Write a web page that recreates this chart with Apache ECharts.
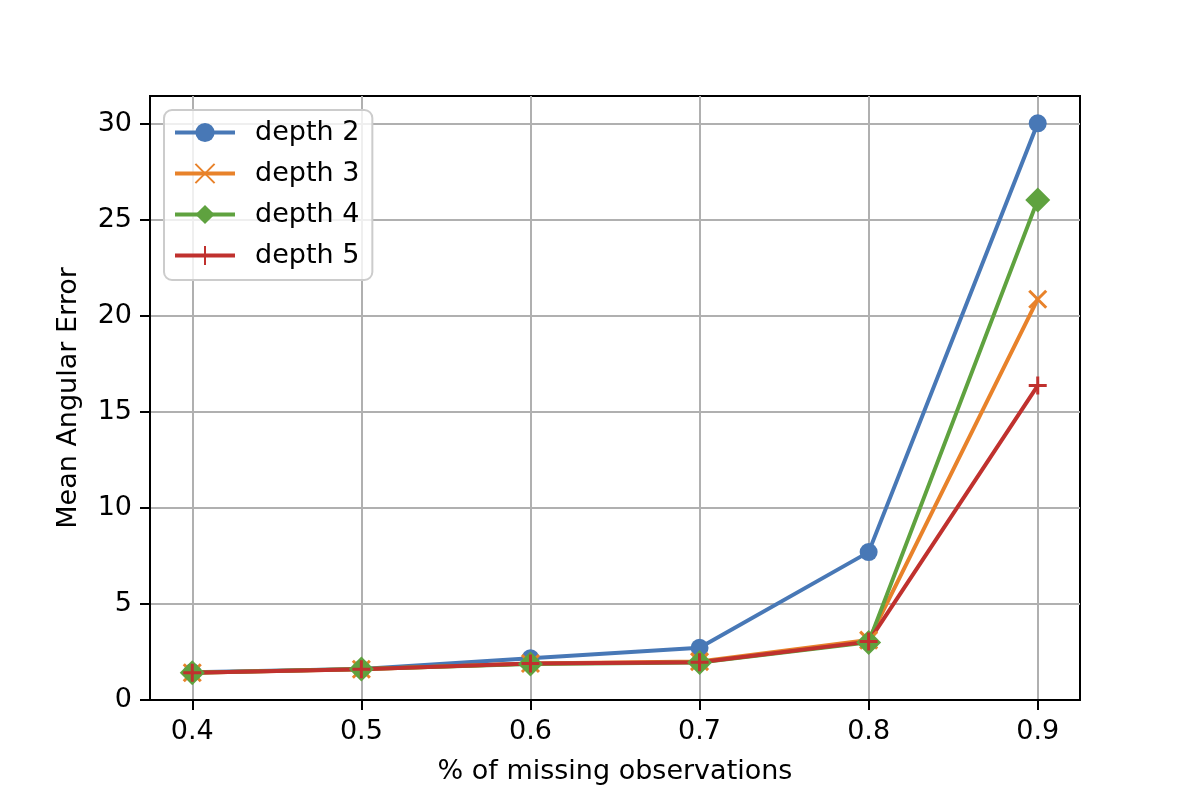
<!DOCTYPE html>
<html>
<head>
<meta charset="utf-8">
<script src="https://cdn.jsdelivr.net/npm/echarts@6/dist/echarts.min.js"></script>
<style>
html, body { margin: 0; padding: 0; background: #fff; }
#content { width: 1200px; height: 800px; }
</style>
</head>
<body>
<div id="content"></div>
<script>
// x values (% of missing observations)
var missing = [0.4, 0.5, 0.6, 0.7, 0.8, 0.9];
var depth2 = [1.45, 1.62, 2.17, 2.72, 7.7, 30.03];
var depth3 = [1.42, 1.6, 1.9, 2.0, 3.12, 20.87];
var depth4 = [1.42, 1.62, 1.88, 1.95, 3.0, 26.04];
var depth5 = [1.42, 1.6, 1.9, 1.97, 3.04, 16.37];
var seriesNames = ['depth 2', 'depth 3', 'depth 4', 'depth 5'];
var xTicks = [0.4, 0.5, 0.6, 0.7, 0.8, 0.9];
var yTicks = [0, 5, 10, 15, 20, 25, 30];

var colors = ['#4878b6', '#e8822a', '#5fa23f', '#c0312e'];
var font = 'DejaVu Sans';

function pairs(ys) {
    return missing.map(function (x, i) { return [x, ys[i]]; });
}

var myChart = echarts.init(document.getElementById('content'));

function makeSeries(name, ys, color, symbol, size, stroked) {
    return {
        name: name,
        type: 'line',
        data: pairs(ys),
        symbol: symbol,
        symbolSize: size,
        showAllSymbol: true,
        lineStyle: { color: color, width: 4 },
        itemStyle: stroked
            ? { color: color, borderColor: color, borderWidth: 3 }
            : { color: color, borderWidth: 0 },
        emphasis: { disabled: true },
        animation: false
    };
}

myChart.setOption({
    animation: false,
    backgroundColor: '#fff',
    grid: {
        left: 150, right: 120, top: 96, bottom: 100,
        show: true, borderColor: '#000', borderWidth: 2, backgroundColor: '#fff'
    },
    legend: {
        orient: 'vertical',
        left: 164, top: 110,
        padding: [9, 13, 11, 9],
        itemWidth: 60, itemHeight: 24, itemGap: 14,
        lineStyle: { width: 4 },
        backgroundColor: 'rgba(255,255,255,0.8)',
        borderColor: '#cccccc', borderWidth: 2, borderRadius: 8,
        textStyle: { fontFamily: font, fontSize: 27, color: '#000', padding: [0, 0, 0, 15] },
        data: seriesNames
    },
    xAxis: {
        type: 'value',
        min: 0.375, max: 0.925,
        name: '% of missing observations',
        nameLocation: 'middle', nameGap: 58,
        nameTextStyle: { fontFamily: font, fontSize: 27, color: '#000' },
        axisLine: { lineStyle: { color: '#000', width: 2 } },
        axisTick: { show: true, length: 10, lineStyle: { color: '#000', width: 2 }, customValues: xTicks },
        axisLabel: {
            fontFamily: font, fontSize: 27, color: '#000', margin: 18,
            customValues: xTicks,
            formatter: function (v) { return v.toFixed(1); }
        },
        splitLine: { show: true, lineStyle: { color: '#b0b0b0', width: 2 } }
    },
    yAxis: {
        type: 'value',
        min: 0, max: 31.45,
        name: 'Mean Angular Error',
        nameLocation: 'middle', nameGap: 68,
        nameTextStyle: { fontFamily: font, fontSize: 27, color: '#000' },
        axisLine: { show: true, lineStyle: { color: '#000', width: 2 } },
        axisTick: { show: true, length: 10, lineStyle: { color: '#000', width: 2 }, customValues: yTicks },
        axisLabel: {
            fontFamily: font, fontSize: 27, color: '#000', margin: 18,
            customValues: yTicks
        },
        splitLine: { show: true, lineStyle: { color: '#b0b0b0', width: 2 } }
    },
    series: [
        makeSeries(seriesNames[0], depth2, colors[0], 'circle', 18, false),
        makeSeries(seriesNames[1], depth3, colors[1], 'path://M0,0L10,10M10,0L0,10', 17, true),
        makeSeries(seriesNames[2], depth4, colors[2], 'diamond', 25, false),
        makeSeries(seriesNames[3], depth5, colors[3], 'path://M5,0L5,10M0,5L10,5', 18, true)
    ]
});
</script>
</body>
</html>
